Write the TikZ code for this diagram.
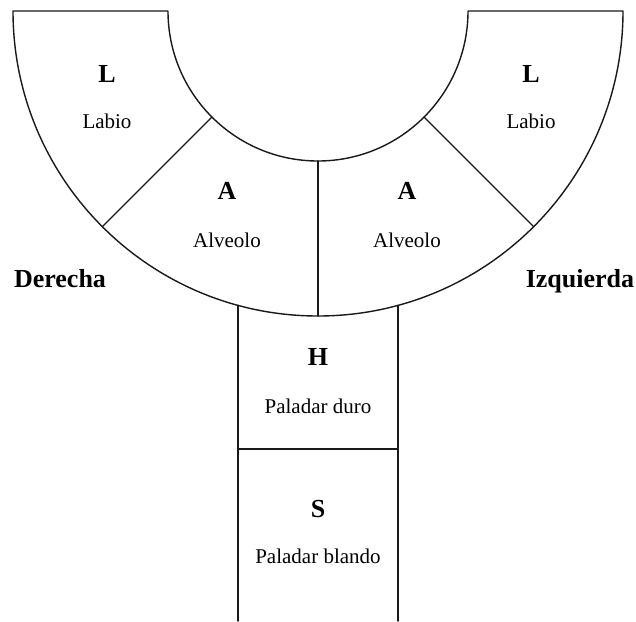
\documentclass[tikz,border=0pt]{standalone}
\usepackage{fontspec}
\setmainfont{Liberation Serif}
\usepackage{tikz}

\begin{document}
\begin{tikzpicture}[
		x=1pt, y=1pt,
		outline/.style={
			draw=black!90,
			line width=1.4pt,
			line cap=round,
			line join=round
		},
		letter/.style={
			anchor=base,
			inner sep=0pt,
			font=\fontsize{26}{30}\selectfont\bfseries
		},
		place/.style={
			anchor=base,
			inner sep=0pt,
			font=\fontsize{21}{25}\selectfont
		},
		side/.style={
			anchor=base,
			inner sep=0pt,
			font=\fontsize{26}{30}\selectfont\bfseries
		}
	]
	\useasboundingbox (-318,11) rectangle (318,-610);
	
	% Half ring (lips and alveolar ridge)
	\coordinate (ctr) at (0,0);
	\draw[outline] (-150,0) -- (-305,0) arc[start angle=180, end angle=360, radius=305]
		-- (150,0) arc[start angle=0, end angle=-180, radius=150];
	\draw[outline] (ctr) ++(225:150) -- ++(225:155);
	\draw[outline] (ctr) ++(315:150) -- ++(315:155);
	\draw[outline] (0,-150) -- (0,-305);
	
	% Palate strip
	\draw[outline] (-80,-294.3) -- (-80,-610);
	\draw[outline] (80,-294.3) -- (80,-610);
	\draw[outline] (-80,-438) -- (80,-438);
	
	% Labels in the ring
	\node[letter] (lr) at (-211,-71) {L};
	\node[place] (lrt) at (-211,-117) {Labio};
	\node[letter] (ll) at (213,-71) {L};
	\node[place] (llt) at (213,-117) {Labio};
	
	\node[letter] (ar) at (-91,-188) {A};
	\node[place] (art) at (-91,-236) {Alveolo};
	\node[letter] (al) at (89,-188) {A};
	\node[place] (alt) at (89,-236) {Alveolo};
	
	% Sides
	\node[side] (der) at (-258,-276) {Derecha};
	\node[side] (izq) at (262,-276) {Izquierda};
	
	% Labels in the strip
	\node[letter] (h) at (0,-354) {H};
	\node[place] (ht) at (0,-402) {Paladar duro};
	\node[letter] (s) at (0,-506) {S};
	\node[place] (st) at (0,-552) {Paladar blando};
	
\end{tikzpicture}
\end{document}
